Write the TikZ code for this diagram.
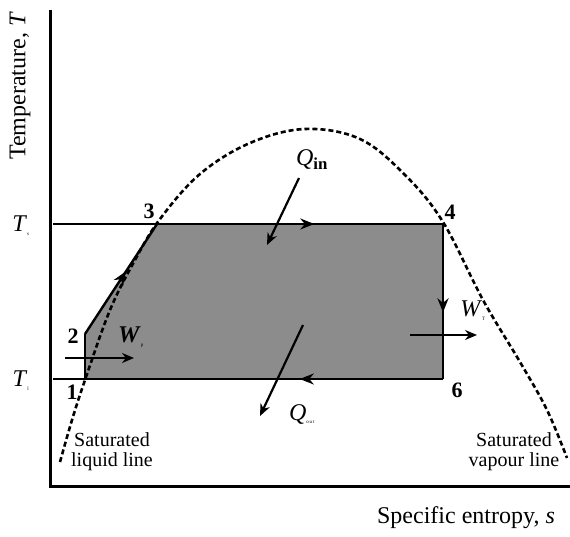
\documentclass[tikz,border=0pt]{standalone}
\usepackage{fontspec}
\setmainfont{Liberation Serif}
\usetikzlibrary{arrows.meta,decorations.markings}
\begin{document}
\begin{tikzpicture}[x=1pt,y=-1pt,
  axis/.style={line width=3pt},
  lvl/.style={line width=1.6pt},
  cyc/.style={line width=2.4pt},
  dome/.style={line width=2.6pt,dash pattern=on 5pt off 3pt},
  arr/.style={line width=2.2pt,-{Stealth[length=12pt,width=10pt]}},
  midarrow/.style={postaction={decorate},decoration={markings,mark=at position #1 with {\arrow{Stealth[length=14pt,width=11pt]}}}},
  num/.style={font=\fontsize{22}{24}\selectfont\bfseries, inner sep=0pt},
  lbl/.style={font=\fontsize{24}{26}\selectfont, inner sep=0pt},
  sat/.style={font=\fontsize{20}{20}\selectfont, align=center, inner sep=0pt},
  ax/.style={font=\fontsize{24}{26}\selectfont, inner sep=0pt}]
\useasboundingbox (0,0) rectangle (570,537);
% axes
\coordinate (ytop) at (50,10);
\coordinate (o) at (50,486);
\coordinate (xend) at (570,486);
\draw[axis] (ytop) -- (o) -- (xend);
\node[ax, rotate=90] (ylab) at (20,86) {Temperature, \textit{T}};
\node[ax] (xlab) at (466,518) {Specific entropy, \textit{s}};
% cycle points
\coordinate (p1) at (85,379);
\coordinate (p2) at (85,334);
\coordinate (p3) at (157,224);
\coordinate (p4) at (443,224);
\coordinate (p6) at (443,379);
\fill[black!45] (p1) -- (p2) -- (p3) -- (p4) -- (p6) -- cycle;
% temperature levels
\coordinate (ts0) at (53,224);
\coordinate (tl0) at (53,379);
\draw[lvl] (ts0) -- (p3);
\draw[lvl] (tl0) -- (p1);
\node[lbl] (Ts) at (21,226) {\textit{T}\textsubscript{\tiny s}};
\node[lbl] (Tl) at (21,381) {\textit{T}\textsubscript{\tiny l}};
% dome
\draw[dome] plot[smooth, tension=0.6] coordinates {(60,462) (72,420) (85,380) (110,310) (135,260) (160,219) (200,174) (250,143) (305,129) (360,139) (405,175) (443,222) (483,300) (520,362) (547,410) (567,458)};
% cycle outline with arrows
\draw[cyc] (p6) -- (p1) -- (p2);
\draw[cyc, midarrow=0.57] (p2) -- (p3);
\draw[cyc, midarrow=0.55] (p3) -- (p4);
\draw[cyc, midarrow=0.57] (p4) -- (p6);
\draw[cyc, midarrow=0.40] (p6) -- (p1);
% point numbers
\node[num] (n1) at (72,392) {1};
\node[num] (n2) at (73,336) {2};
\node[num] (n3) at (149,211) {3};
\node[num] (n4) at (450,212) {4};
\node[num] (n6) at (457,390) {6};
% heat and work arrows
\coordinate (qinA) at (299,178);
\coordinate (qinB) at (267,245);
\draw[arr] (qinA) -- (qinB);
\node[lbl] (qin) at (312,160) {\textit{Q}\textsubscript{\textbf{in}}};
\coordinate (qoutA) at (303,325);
\coordinate (qoutB) at (260,416);
\draw[arr] (qoutA) -- (qoutB);
\node[lbl] (qout) at (302,414) {\textit{Q}\textsubscript{\tiny o\,u\,t}};
\coordinate (wpA) at (65,358);
\coordinate (wpB) at (134,358);
\draw[arr] (wpA) -- (wpB);
\node[lbl] (wp) at (131,337) {\textbf{\textit{W}}\textsubscript{\tiny p}};
\coordinate (wtA) at (410,335);
\coordinate (wtB) at (477,335);
\draw[arr] (wtA) -- (wtB);
\node[lbl] (wt) at (473,311) {\textit{W}\textsubscript{\tiny T}};
% saturation labels
\node[sat] (sl) at (112,452) {Saturated\\liquid line};
\node[sat] (sv) at (514,452) {Saturated\\vapour line};
\end{tikzpicture}
\end{document}
